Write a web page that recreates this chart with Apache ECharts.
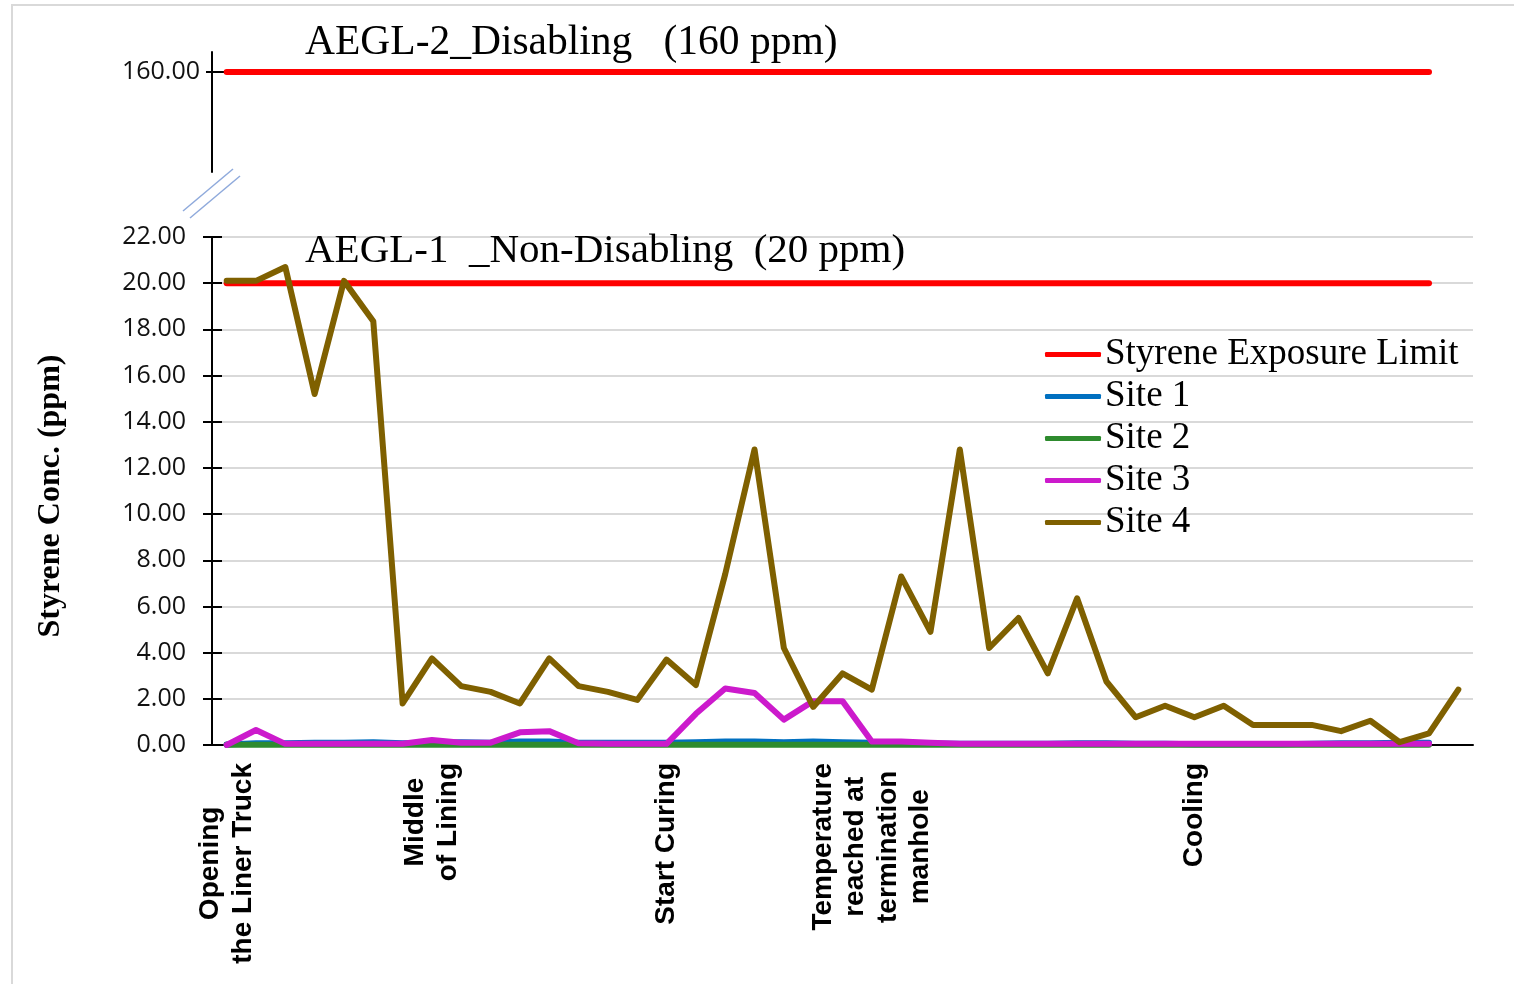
<!DOCTYPE html>
<html>
<head>
<meta charset="utf-8">
<title>Styrene concentration during liner installation</title>
<script src="https://cdn.jsdelivr.net/npm/echarts@6/dist/echarts.min.js"></script>
<style>
  html, body { margin: 0; padding: 0; background: #ffffff; }
  #chart { width: 1514px; height: 984px; }
</style>
</head>
<body>
<div id="chart"></div>
<script>
// Sampling points (one per reading)
const samples = ['1','2','3','4','5','6','7','8','9','10','11','12','13','14','15','16','17','18','19','20',
  '21','22','23','24','25','26','27','28','29','30','31','32','33','34','35','36','37','38','39','40',
  '41','42','43'];

// Phase names shown under the matching sample
const phaseLabels = {
  0: ['Opening', 'the Liner Truck'],
  7: ['Middle', 'of Lining'],
  15: ['Start Curing'],
  22: ['Temperature', 'reached at', 'termination', 'manhole'],
  33: ['Cooling']
};

// AEGL limits (ppm)
const aegl1Limit = [20,20,20,20,20,20,20,20,20,20,20,20,20,20,20,20,20,20,20,20,20,
  20,20,20,20,20,20,20,20,20,20,20,20,20,20,20,20,20,20,20,20,20];
const aegl2Limit = [160,160,160,160,160,160,160,160,160,160,160,160,160,160,160,160,160,160,160,160,160,
  160,160,160,160,160,160,160,160,160,160,160,160,160,160,160,160,160,160,160,160,160];

// Styrene concentration by site (ppm)
const site1 = [0.02,0.08,0.08,0.1,0.1,0.12,0.08,0.1,0.12,0.1,0.15,0.15,0.1,0.1,0.1,0.1,0.12,0.15,0.15,0.12,0.15,
  0.12,0.1,0.08,0.06,0.05,0.05,0.05,0.05,0.08,0.08,0.05,0.05,0.03,0.03,0.03,0.03,0.05,0.08,0.08,0.1,0.1];
const site2 = [0.01,0.01,0.01,0.01,0.01,0.01,0.01,0.01,0.01,0.01,0.01,0.01,0.01,0.01,0.01,0.01,0.01,0.01,0.01,0.01,0.01,
  0.01,0.01,0.01,0.01,0.01,0.01,0.01,0.01,0.01,0.01,0.01,0.01,0.01,0.01,0.01,0.01,0.01,0.01,0.01,0.01,0.01];
const site3 = [0,0.65,0.05,0.05,0.05,0.05,0.05,0.22,0.1,0.1,0.55,0.6,0.08,0.05,0.05,0.05,1.35,2.45,2.25,1.1,1.9,
  1.9,0.15,0.15,0.1,0.05,0.05,0.05,0.05,0.05,0.05,0.05,0.05,0.05,0.05,0.05,0.05,0.05,0.05,0.05,0.05,0.05];
const site4 = [20.1,20.1,20.7,15.2,20.1,18.35,1.8,3.75,2.55,2.3,1.8,3.75,2.55,2.3,1.95,3.7,2.6,7.4,12.8,4.2,1.65,
  3.1,2.4,7.3,4.9,12.8,4.2,5.5,3.1,6.35,2.75,1.2,1.7,1.2,1.7,0.87,0.87,0.87,0.6,1.05,0.12,0.5,2.4];

const lowerTicks = { min: 0, max: 22, interval: 2 };
const upperTicks = { min: 135, max: 165, values: [160] };

const COLORS = {
  limit: '#FF0000',
  site1: '#0070C0',
  site2: '#2E8B2E',
  site3: '#CC1ACC',
  site4: '#7F6000'
};

const serif = 'Liberation Serif';
const sans = 'Liberation Sans';
const tickFont = 'Open Sans';
const LINE_W = 6;

function lineSeries(name, data, color, xi, yi) {
  return {
    name, type: 'line', data, xAxisIndex: xi, yAxisIndex: yi,
    symbol: 'none', showSymbol: false, color,
    lineStyle: { color, width: LINE_W, cap: 'round', join: 'round' },
    emphasis: { disabled: true }
  };
}

const chart = echarts.init(document.getElementById('chart'), null, { renderer: 'canvas' });

chart.setOption({
  animation: false,
  backgroundColor: '#ffffff',
  grid: [
    { left: 212, right: 41, top: 237, bottom: 239 },
    { left: 212, right: 41, top: 52, height: 120 }
  ],
  legend: {
    data: ['Styrene Exposure Limit', 'Site 1', 'Site 2', 'Site 3', 'Site 4'],
    orient: 'vertical',
    left: 1045, top: 336,
    padding: 0,
    icon: 'roundRect',
    itemWidth: 56, itemHeight: 5, itemGap: 5,
    textStyle: { fontFamily: serif, fontSize: 37, color: '#000', padding: [0, 0, 0, -1] },
    selectedMode: false
  },
  xAxis: [
    {
      gridIndex: 0, type: 'category', data: samples, boundaryGap: true,
      axisLine: { show: true, lineStyle: { color: '#000', width: 2 } },
      axisTick: { show: false },
      splitLine: { show: false },
      axisLabel: {
        interval: 0, rotate: 90, margin: 18,
        formatter: (v, i) => phaseLabels[i] ? phaseLabels[i].map(s => '{c|' + s + '}').join('\n') : '',
        rich: {
          c: { align: 'center', fontFamily: sans, fontWeight: 'bold', fontSize: 28, lineHeight: 32.5, color: '#000' }
        },
        fontFamily: sans, fontWeight: 'bold', fontSize: 28, lineHeight: 32.5, color: '#000'
      }
    },
    { gridIndex: 1, type: 'category', data: samples, boundaryGap: true, show: false }
  ],
  yAxis: [
    {
      gridIndex: 0, type: 'value', position: 'left',
      min: lowerTicks.min, max: lowerTicks.max, interval: lowerTicks.interval,
      name: 'Styrene Conc. (ppm)', nameLocation: 'middle', nameGap: 145,
      nameTextStyle: { fontFamily: serif, fontWeight: 'bold', fontSize: 32, color: '#000', padding: [0, 10, 0, 0] },
      axisLine: { show: true, lineStyle: { color: '#000', width: 2 } },
      axisTick: { show: true, length: 9, lineStyle: { color: '#000', width: 2 } },
      axisLabel: { margin: 26, formatter: v => v.toFixed(2), fontFamily: tickFont, fontSize: 25, color: '#111' },
      splitLine: { show: true, lineStyle: { color: '#d9d9d9', width: 2 } }
    },
    {
      gridIndex: 0, type: 'value', position: 'left',
      min: lowerTicks.min, max: lowerTicks.max, interval: lowerTicks.interval,
      axisLine: { show: false },
      axisTick: { show: true, inside: true, length: 10, lineStyle: { color: '#000', width: 2 } },
      axisLabel: { show: false },
      splitLine: { show: false }
    },
    {
      gridIndex: 1, type: 'value', position: 'left',
      min: upperTicks.min, max: upperTicks.max,
      axisLine: { show: true, lineStyle: { color: '#000', width: 2 } },
      axisTick: { show: true, length: 6, customValues: upperTicks.values, lineStyle: { color: '#000', width: 2 } },
      axisLabel: { margin: 12, customValues: upperTicks.values, formatter: v => v.toFixed(2), fontFamily: tickFont, fontSize: 25, color: '#111' },
      splitLine: { show: false }
    },
    {
      gridIndex: 1, type: 'value', position: 'left',
      min: upperTicks.min, max: upperTicks.max,
      axisLine: { show: false },
      axisTick: { show: true, inside: true, length: 12, customValues: upperTicks.values, lineStyle: { color: '#000', width: 2 } },
      axisLabel: { show: false },
      splitLine: { show: false }
    }
  ],
  series: [
    lineSeries('Styrene Exposure Limit', aegl1Limit, COLORS.limit, 0, 0),
    lineSeries('Styrene Exposure Limit', aegl2Limit, COLORS.limit, 1, 2),
    lineSeries('Site 1', site1, COLORS.site1, 0, 0),
    lineSeries('Site 2', site2, COLORS.site2, 0, 0),
    lineSeries('Site 3', site3, COLORS.site3, 0, 0),
    lineSeries('Site 4', site4, COLORS.site4, 0, 0)
  ],
  graphic: [
    // frame around the figure
    { type: 'rect', silent: true, z: -10,
      shape: { x: 12, y: 5, width: 1600, height: 1100 },
      style: { fill: null, stroke: '#d9d9d9', lineWidth: 2 } },
    // axis break marks
    { type: 'line', silent: true, z: 50,
      shape: { x1: 183, y1: 211, x2: 233, y2: 169 },
      style: { stroke: '#8FAADC', lineWidth: 1.5 } },
    { type: 'line', silent: true, z: 50,
      shape: { x1: 190, y1: 218, x2: 240, y2: 176 },
      style: { stroke: '#8FAADC', lineWidth: 1.5 } },
    // limit annotations
    { type: 'text', silent: true, z: 100, x: 305, y: 43,
      style: { text: 'AEGL-2_Disabling   (160 ppm)', fontFamily: serif, fontSize: 41.5, fill: '#000',
               verticalAlign: 'middle', align: 'left' } },
    { type: 'text', silent: true, z: 100, x: 305, y: 251,
      style: { text: 'AEGL-1  _Non-Disabling  (20 ppm)', fontFamily: serif, fontSize: 41, fill: '#000',
               verticalAlign: 'middle', align: 'left' } }
  ]
});
</script>
</body>
</html>
